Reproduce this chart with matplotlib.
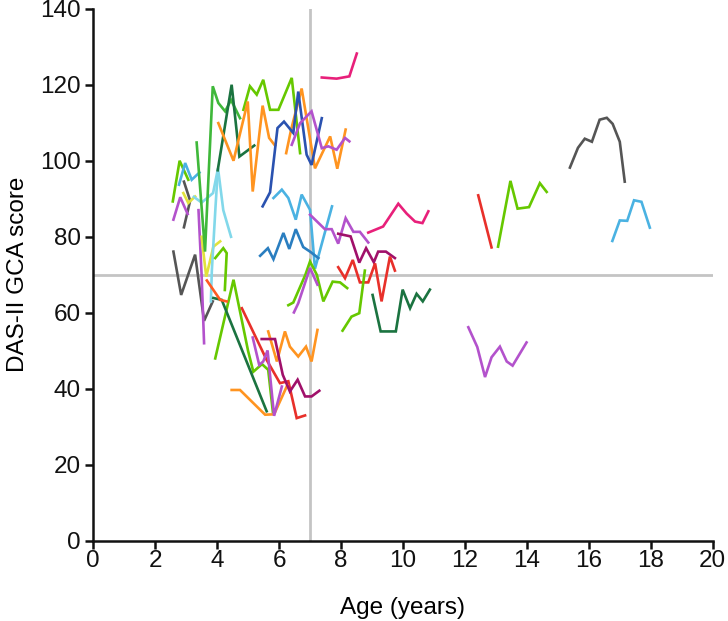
import matplotlib
matplotlib.use("Agg")
import matplotlib.pyplot as plt

plt.rcParams['font.family'] = ['Liberation Sans', 'DejaVu Sans']

# ---- data: one trajectory per child (age in years, DAS-II GCA score) ----
gray1_age = [2.59, 2.84, 3.29, 3.58, 3.86]
gray1_gca = [76.1, 64.7, 75.3, 57.9, 63.0]
gray2_age = [2.93, 3.13, 2.93]
gray2_gca = [94.5, 89.5, 82.5]
lime1_age = [2.57, 2.79, 3.07]
lime1_gca = [89.3, 100.0, 95.0]
lblue1_age = [2.77, 2.97, 3.18, 3.43]
lblue1_gca = [93.7, 99.4, 95.0, 96.9]
purple1_age = [2.59, 2.81, 3.05]
purple1_gca = [84.5, 90.4, 86.0]
purple2_age = [3.40, 3.50, 3.58]
purple2_gca = [87.0, 70.0, 52.0]
yellow1_age = [2.91, 3.07, 3.29]
yellow1_gca = [91.5, 88.9, 90.6]
yellow2_age = [3.50, 3.65, 3.88, 4.10]
yellow2_gca = [80.0, 69.5, 77.4, 78.8]
cyan1_age = [3.25, 3.50, 3.87, 4.03, 4.20, 4.45]
cyan1_gca = [90.5, 89.0, 91.5, 98.0, 87.0, 80.0]
cyan2_age = [3.80, 3.83, 3.95, 4.02]
cyan2_gca = [63.0, 71.0, 88.0, 97.0]
mgreen_age = [3.34, 3.61, 3.86, 4.04, 4.26, 4.45, 4.74]
mgreen_gca = [104.8, 76.1, 119.6, 115.2, 113.0, 116.0, 111.2]
lime2_age = [4.85, 5.06, 5.28, 5.49, 5.71, 5.98, 6.41, 6.68]
lime2_gca = [113.4, 119.6, 117.4, 121.3, 113.4, 113.4, 121.8, 102.0]
dgreen1_age = [4.02, 4.47, 4.72, 5.20]
dgreen1_gca = [97.5, 120.0, 101.1, 104.0]
orange1_age = [4.04, 4.53, 4.99, 5.15, 5.47, 5.68, 5.87]
orange1_gca = [109.9, 100.0, 115.6, 91.9, 114.5, 106.0, 104.0]
orange2_age = [6.23, 6.39, 6.73, 7.16, 7.65, 7.88, 8.15]
orange2_gca = [102.0, 108.2, 119.0, 98.0, 106.4, 97.9, 108.2]
dblue_age = [5.47, 5.71, 5.95, 6.16, 6.46, 6.62, 6.89, 7.05, 7.38]
dblue_gca = [88.0, 91.7, 108.6, 110.3, 107.3, 118.2, 101.6, 98.9, 111.2]
purple3_age = [6.41, 6.68, 7.05, 7.38, 7.59, 7.86, 8.13, 8.27]
purple3_gca = [104.2, 109.9, 113.0, 103.3, 103.8, 102.9, 106.0, 105.1]
pink1_age = [7.38, 7.86, 8.27, 8.51]
pink1_gca = [121.9, 121.6, 122.2, 128.2]
lblue2_age = [5.82, 6.09, 6.30, 6.54, 6.73, 7.00, 7.16, 7.71]
lblue2_gca = [90.2, 92.4, 90.2, 84.5, 91.1, 87.1, 71.6, 88.0]
mblue_age = [5.39, 5.64, 5.82, 6.14, 6.33, 6.54, 6.78, 7.00, 7.27]
mblue_gca = [75.0, 77.0, 74.1, 81.0, 76.8, 82.0, 77.3, 76.1, 74.4]
purple4_age = [7.00, 7.48, 7.70, 7.91, 8.15, 8.40, 8.61, 8.88]
purple4_gca = [85.8, 82.0, 82.0, 78.2, 84.9, 81.3, 81.3, 78.5]
maroon1_age = [7.91, 8.31, 8.59, 8.81, 9.06, 9.20, 9.45, 9.74]
maroon1_gca = [80.8, 80.1, 73.2, 77.0, 73.3, 76.1, 76.1, 74.4]
red1_age = [7.91, 8.13, 8.38, 8.61, 8.88, 9.10, 9.31, 9.58, 9.74]
red1_gca = [72.0, 69.1, 73.9, 68.0, 68.0, 73.0, 63.0, 74.8, 71.1]
pink2_age = [8.88, 9.36, 9.85, 10.12, 10.39, 10.63, 10.82]
pink2_gca = [81.1, 82.7, 88.7, 86.1, 84.0, 83.6, 86.7]
lime3_age = [6.30, 6.46, 6.85, 7.00, 7.22, 7.43, 7.73, 7.97, 8.20]
lime3_gca = [62.0, 62.7, 70.0, 73.5, 70.0, 63.0, 68.2, 68.0, 66.5]
purple5_age = [6.48, 6.62, 7.00, 7.24]
purple5_gca = [60.1, 62.5, 71.8, 67.4]
lime4_age = [8.05, 8.34, 8.59, 8.77]
lime4_gca = [55.3, 59.0, 59.9, 71.1]
dgreen2_age = [9.02, 9.28, 9.77, 9.99, 10.23, 10.44, 10.64, 10.87]
dgreen2_gca = [64.7, 55.1, 55.1, 66.1, 61.2, 65.0, 63.0, 66.1]
red2_age = [12.43, 12.86]
red2_gca = [90.9, 77.2]
lime5_age = [13.07, 13.47, 13.70, 14.07, 14.42, 14.64]
lime5_gca = [77.4, 94.7, 87.4, 87.8, 94.1, 91.8]
gray3_age = [15.39, 15.65, 15.87, 16.10, 16.35, 16.58, 16.77, 17.00, 17.16]
gray3_gca = [98.2, 103.4, 105.8, 105.0, 110.8, 111.3, 109.7, 105.0, 94.5]
lblue3_age = [16.76, 17.00, 17.24, 17.46, 17.70, 17.97]
lblue3_gca = [78.9, 84.3, 84.2, 89.6, 89.2, 82.4]
purple6_age = [12.11, 12.40, 12.65, 12.86, 13.13, 13.35, 13.54, 13.99]
purple6_gca = [56.2, 51.0, 43.1, 48.3, 51.1, 47.2, 46.1, 52.2]
lime6_age = [3.94, 4.20, 4.31, 4.25]
lime6_gca = [74.4, 77.0, 75.7, 66.0]
lime7_age = [3.94, 4.53, 5.00, 5.17, 5.45, 5.65, 5.80]
lime7_gca = [48.0, 68.7, 50.0, 44.5, 46.5, 45.0, 34.0]
dgreen3_age = [3.88, 4.15, 5.60]
dgreen3_gca = [63.9, 63.4, 34.1]
ored_age = [3.67, 4.10, 4.31]
ored_gca = [68.5, 63.4, 63.0]
red3_age = [4.80, 5.60, 6.03, 6.30, 6.57, 6.84]
red3_gca = [61.2, 47.6, 41.5, 42.0, 32.3, 33.0]
orange3_age = [4.47, 4.74, 5.55, 5.84, 6.27]
orange3_gca = [39.7, 39.7, 33.2, 33.3, 41.0]
orange4_age = [5.65, 5.93, 6.19, 6.35, 6.62, 6.87, 7.05, 7.24]
orange4_gca = [55.1, 47.2, 55.1, 51.1, 48.5, 51.1, 47.2, 55.5]
maroon2_age = [5.44, 5.87, 6.12, 6.35, 6.60, 6.84, 7.05, 7.30]
maroon2_gca = [53.1, 53.1, 43.7, 39.3, 42.4, 38.0, 38.0, 39.5]
purple7_age = [5.15, 5.36, 5.49, 5.63, 5.84, 6.09]
purple7_gca = [53.5, 46.3, 47.2, 50.1, 32.9, 40.6]

xticks = list(range(0, 21, 2))
yticks = list(range(0, 141, 20))
cutoff_age = 7
cutoff_gca = 70

GRAY = '#555555'; LIME = '#66c800'; MGREEN = '#3fb83a'; DGREEN = '#1b7340'
ORANGE = '#ff9420'; ORED = '#ff5a22'; RED = '#e8302a'; PINK = '#e8207a'
PURPLE = '#b352cc'; MAROON = '#a0106a'; DBLUE = '#2a52b0'; MBLUE = '#2a7ec0'
LBLUE = '#4ab2e2'; CYAN = '#82d8ea'; YELLOW = '#e2e23c'

series = [
    (gray1_age, gray1_gca, GRAY), (gray2_age, gray2_gca, GRAY),
    (lime1_age, lime1_gca, LIME), (lblue1_age, lblue1_gca, LBLUE),
    (purple1_age, purple1_gca, PURPLE), (purple2_age, purple2_gca, PURPLE),
    (yellow1_age, yellow1_gca, YELLOW), (yellow2_age, yellow2_gca, YELLOW),
    (cyan1_age, cyan1_gca, CYAN), (cyan2_age, cyan2_gca, CYAN),
    (mgreen_age, mgreen_gca, MGREEN), (lime2_age, lime2_gca, LIME),
    (dgreen1_age, dgreen1_gca, DGREEN), (orange1_age, orange1_gca, ORANGE),
    (orange2_age, orange2_gca, ORANGE), (dblue_age, dblue_gca, DBLUE),
    (purple3_age, purple3_gca, PURPLE), (pink1_age, pink1_gca, PINK),
    (lblue2_age, lblue2_gca, LBLUE), (mblue_age, mblue_gca, MBLUE),
    (purple4_age, purple4_gca, PURPLE), (maroon1_age, maroon1_gca, MAROON),
    (red1_age, red1_gca, RED), (pink2_age, pink2_gca, PINK),
    (lime3_age, lime3_gca, LIME), (purple5_age, purple5_gca, PURPLE),
    (lime4_age, lime4_gca, LIME), (dgreen2_age, dgreen2_gca, DGREEN),
    (red2_age, red2_gca, RED), (lime5_age, lime5_gca, LIME),
    (gray3_age, gray3_gca, GRAY), (lblue3_age, lblue3_gca, LBLUE),
    (purple6_age, purple6_gca, PURPLE), (lime6_age, lime6_gca, LIME),
    (lime7_age, lime7_gca, LIME), (dgreen3_age, dgreen3_gca, DGREEN),
    (ored_age, ored_gca, ORED), (red3_age, red3_gca, RED),
    (orange3_age, orange3_gca, ORANGE), (orange4_age, orange4_gca, ORANGE),
    (maroon2_age, maroon2_gca, MAROON), (purple7_age, purple7_gca, PURPLE),
]

fig = plt.figure(figsize=(7.28, 6.21), dpi=100)
ax = fig.add_axes([0.128, 0.129, 0.851, 0.857])

ax.axvline(cutoff_age, color='#c4c4c4', lw=2, zorder=1)
ax.axhline(cutoff_gca, color='#c4c4c4', lw=2, zorder=1)

for age, gca, col in series:
    ax.plot(age, gca, color=col, lw=1.9, solid_joinstyle='miter', zorder=2)

ax.set_xlim(0, 20)
ax.set_ylim(0, 140)
ax.set_xticks(xticks)
ax.set_yticks(yticks)
for s in ['top', 'right']:
    ax.spines[s].set_visible(False)
for s in ['left', 'bottom']:
    ax.spines[s].set_linewidth(1.8)
    ax.spines[s].set_color('#111111')
ax.tick_params(direction='out', length=6, width=1.8, labelsize=17.5, colors='#111111', pad=3)
ax.tick_params(axis='x', pad=0.5)
ax.set_xlabel('Age (years)', fontsize=17.5, labelpad=18)
ax.set_ylabel('DAS-II GCA score', fontsize=17.5, labelpad=8)

fig.savefig('out.png', dpi=100)
